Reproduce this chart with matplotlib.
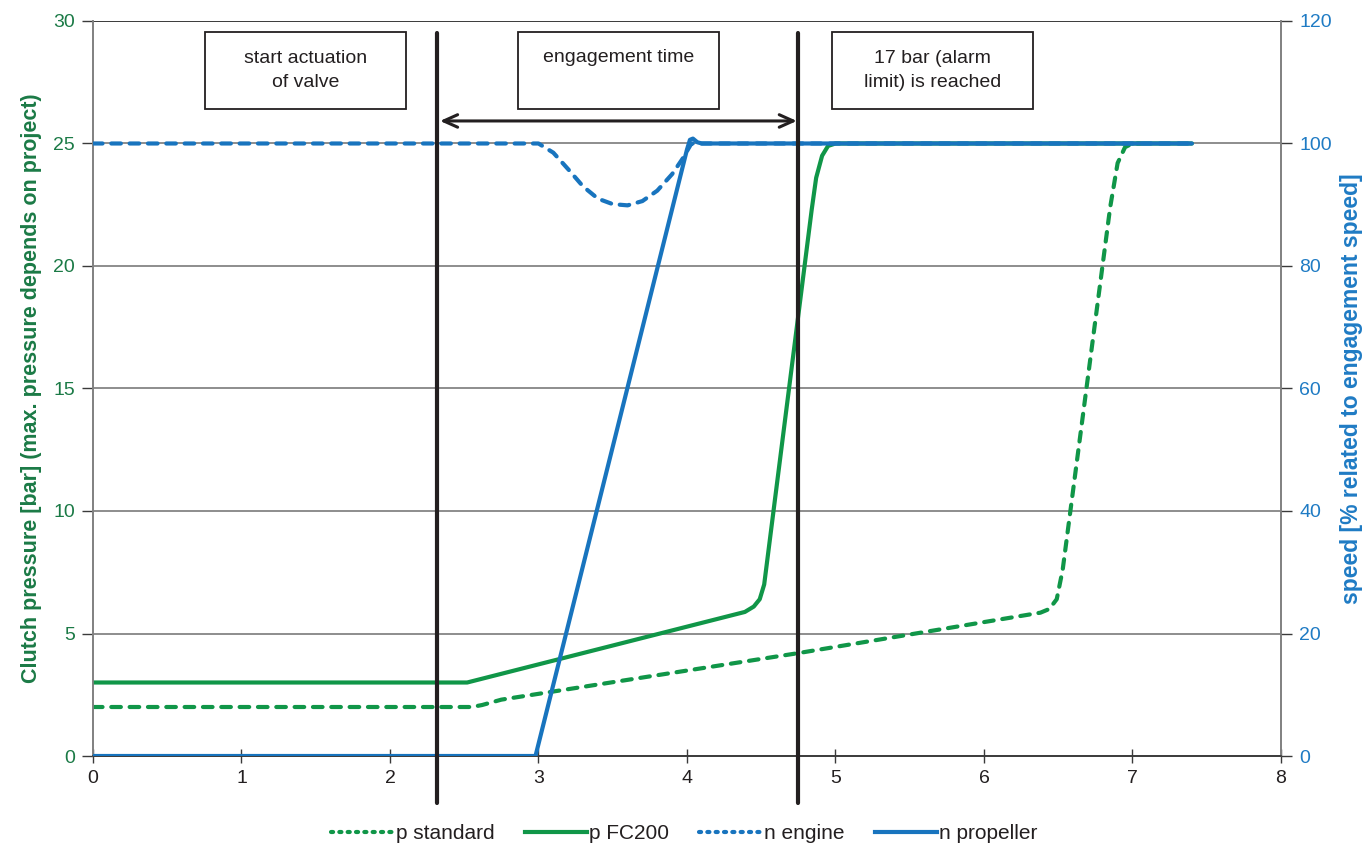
import matplotlib
matplotlib.use("Agg")
import matplotlib.pyplot as plt
from matplotlib.patches import Rectangle
from matplotlib.lines import Line2D

plt.rcParams['font.family'] = ['Liberation Sans', 'DejaVu Sans']

# ---- data ----
p_std_t = [0, 2.55, 2.62, 2.75, 4.75, 6.38, 6.44, 6.49, 6.53, 6.85, 6.90, 6.95, 7.00, 7.05]
p_std_v = [2.0, 2.0, 2.08, 2.3, 4.2, 5.85, 6.0, 6.4, 7.6, 22.4, 24.2, 24.85, 25.0, 25.0]

p_fc_t = [0, 2.52, 4.39, 4.45, 4.49, 4.52, 4.84, 4.87, 4.91, 4.95, 5.0, 7.4]
p_fc_v = [3.0, 3.0, 5.88, 6.1, 6.4, 7.0, 22.3, 23.6, 24.5, 24.9, 25.0, 25.0]

n_eng_t = [0, 3.0, 3.1, 3.2, 3.3, 3.4, 3.5, 3.6, 3.7, 3.8, 3.9, 3.97, 4.03, 7.4]
n_eng_v = [100, 100, 98.5, 95.8, 93.0, 91.0, 90.1, 89.9, 90.6, 92.3, 95.0, 97.5, 100, 100]

n_prop_t = [0, 2.98, 4.0, 4.02, 4.04, 4.07, 4.1, 7.4]
n_prop_v = [0, 0, 99.0, 100.6, 100.8, 100.2, 100, 100]

markers_t = [2.32, 4.75]
box_text = ["start actuation\nof valve", "engagement time", "17 bar (alarm\nlimit) is reached"]
box_x = [0.754, 2.862, 4.976]

x_ticks = [0, 1, 2, 3, 4, 5, 6, 7, 8]
p_ticks = [0, 5, 10, 15, 20, 25, 30]
n_ticks = [0, 20, 40, 60, 80, 100, 120]

GREEN = '#109648'
BLUE = '#1874BE'
GREEN_LBL = '#1B7A46'
BLUE_LBL = '#1F7BC4'
BLACK = '#231F20'

fig = plt.figure(figsize=(13.69, 8.43), dpi=100)
ax = fig.add_axes([0.0679, 0.1032, 0.8678, 0.8719])
ax2 = ax.twinx()

ax.set_xlim(0, 8)
ax.set_ylim(0, 30)
ax2.set_ylim(0, 120)

for y in p_ticks[1:-1]:
    ax.axhline(y, color='#7a7a7a', lw=1.2, zorder=0.5)
ax.axhline(30, color='#3a3a3a', lw=1.4, zorder=0.5)

lw = 3.0
dash = (2.3, 2.1)
ax.plot(p_std_t, p_std_v, color=GREEN, lw=lw, dashes=dash, dash_capstyle='round', zorder=3)
ax.plot(p_fc_t, p_fc_v, color=GREEN, lw=lw, solid_capstyle='round', zorder=3)
ax2.plot(n_eng_t, n_eng_v, color=BLUE, lw=lw, dashes=dash, dash_capstyle='round', zorder=3)
ax2.plot(n_prop_t, n_prop_v, color=BLUE, lw=lw, solid_capstyle='round', zorder=4)

# vertical event lines (in pressure coords, drawn on top)
for xv in markers_t:
    ax2.plot([xv, xv], [-1.92, 29.5], color=BLACK, lw=3.0, solid_capstyle='round',
             transform=ax.transData, clip_on=False, zorder=6)

# text boxes
for xb, txt in zip(box_x, box_text):
    r = Rectangle((xb, 26.41), 1.353, 3.14, transform=ax.transData, fill=True,
                  facecolor='white', edgecolor=BLACK, lw=1.3, zorder=5)
    ax2.add_patch(r)
    if '\n' in txt:
        ax2.text(xb + 0.677, 27.98, txt, transform=ax.transData, ha='center', va='center',
                 fontsize=14, color=BLACK, linespacing=1.6, zorder=6)
    else:
        ax2.text(xb + 0.677, 28.5, txt, transform=ax.transData, ha='center', va='center',
                 fontsize=14, color=BLACK, zorder=6)

# engagement arrow
ax2.annotate('', xy=(4.74, 25.92), xytext=(2.337, 25.92), xycoords=ax.transData,
             textcoords=ax.transData,
             arrowprops=dict(arrowstyle='<->,head_length=1.0,head_width=0.45', lw=2.2,
                             color=BLACK, shrinkA=0, shrinkB=0), zorder=6)

# axes styling
ax.set_xticks(x_ticks)
ax.set_yticks(p_ticks)
ax2.set_yticks(n_ticks)
ax.tick_params(axis='x', direction='inout', length=10, width=1, color='#3a3a3a',
               labelsize=14, labelcolor=BLACK, pad=5)
ax.tick_params(axis='y', direction='out', length=8, width=1, color='#3a3a3a',
               labelsize=14, labelcolor=GREEN_LBL, pad=5)
ax2.tick_params(axis='y', direction='out', length=8, width=1, color='#3a3a3a',
                labelsize=14, labelcolor=BLUE_LBL, pad=5)

for a in (ax, ax2):
    a.spines['top'].set_visible(False)
    a.spines['left'].set_color('#808080')
    a.spines['right'].set_color('#808080')
    a.spines['bottom'].set_color('#3a3a3a')
    a.spines['left'].set_linewidth(1.2)
    a.spines['right'].set_linewidth(1.2)
    a.spines['bottom'].set_linewidth(1.2)

ax.set_ylabel('Clutch pressure [bar] (max. pressure depends on project)', fontsize=15.5,
              fontweight='bold', color=GREEN_LBL, labelpad=8)
ax2.set_ylabel('speed [% related to engagement speed]', fontsize=16.5,
               fontweight='bold', color=BLUE_LBL, labelpad=6)

handles = [
    Line2D([], [], color=GREEN, lw=lw, dashes=(0.5, 1.5), dash_capstyle='round'),
    Line2D([], [], color=GREEN, lw=lw),
    Line2D([], [], color=BLUE, lw=lw, dashes=(0.5, 1.5), dash_capstyle='round'),
    Line2D([], [], color=BLUE, lw=lw),
]
labels = ['p standard', 'p FC200', 'n engine', 'n propeller']
fig.legend(handles, labels, loc='lower center', bbox_to_anchor=(0.5, -0.022), ncol=4,
           frameon=False, fontsize=15, handlelength=3.0, handletextpad=0.1,
           columnspacing=1.45, labelcolor=BLACK)

fig.savefig('out.png', dpi=100)
